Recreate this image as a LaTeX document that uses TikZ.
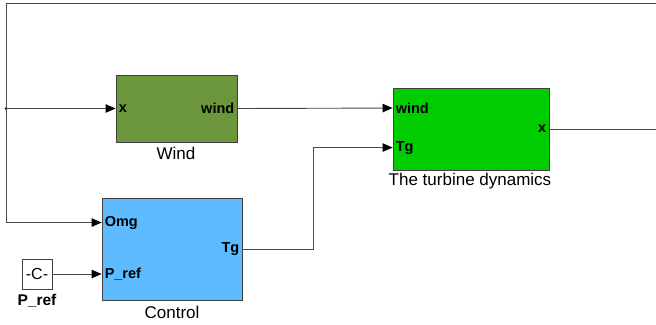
\documentclass[tikz,border=0pt]{standalone}
\usepackage{fontspec}
\setmainfont{Liberation Sans}
\usetikzlibrary{arrows.meta,calc}
\definecolor{windgreen}{HTML}{6B963C}
\definecolor{turbgreen}{HTML}{00CC00}
\definecolor{ctrlblue}{HTML}{5EBBFF}
\definecolor{wirecol}{HTML}{4A4A4A}
\begin{document}
\begin{tikzpicture}[x=1pt,y=1pt,
  blk/.style={draw=black!75, line width=0.9pt, rectangle, inner sep=0pt},
  port/.style={font=\fontsize{14.5}{16}\selectfont\bfseries, inner sep=0pt},
  bname/.style={font=\fontsize{17}{19}\selectfont, inner sep=0pt},
  wire/.style={draw=wirecol, line width=0.9pt},
  sig/.style={wire, -{Triangle[length=10pt,width=8.5pt,fill=black,color=black]}}
]
\useasboundingbox (0,0) rectangle (656,-324);
% blocks
\node[blk, fill=windgreen, minimum width=121pt, minimum height=67pt] (wind) at (176.5,-108.5) {};
\node[blk, fill=turbgreen, minimum width=156pt, minimum height=82pt] (turb) at (471,-129) {};
\node[blk, fill=ctrlblue, minimum width=140pt, minimum height=102pt] (ctrl) at (172,-249) {};
\node[blk, fill=white, minimum width=30pt, minimum height=30pt, line width=0.7pt] (const) at (37,-274) {};
\node[font=\fontsize{16}{18}\selectfont, inner sep=0pt] (ctext) at (const.center) {-C-};
% block names
\node[bname] (wname) at (176,-153) {Wind};
\node[bname] (tname) at (470,-181) {The turbine dynamics};
\node[bname] (cname) at (172,-312) {Control};
\node[port, font=\fontsize{15.5}{17}\selectfont\bfseries] (pname) at (37,-301) {P\_ref};
% ports
\coordinate (turbWind) at ($(turb.north west)+(0,-20.5)$);
\coordinate (turbTg) at ($(turb.north west)+(0,-60)$);
\coordinate (ctrlOmg) at ($(ctrl.north west)+(0,-25)$);
\coordinate (ctrlPref) at (ctrl.west |- const.east);
\node[port, anchor=west] (lwx) at ($(wind.west)+(3,0)$) {x};
\node[port, anchor=east] (lww) at ($(wind.east)+(-3,0)$) {wind};
\node[port, anchor=west] (ltw) at ($(turbWind)+(3,0)$) {wind};
\node[port, anchor=west] (ltt) at ($(turbTg)+(3,0)$) {Tg};
\node[port, anchor=east] (ltx) at ($(turb.east)+(-3,0)$) {x};
\node[port, anchor=west] (lco) at ($(ctrlOmg)+(3,0)$) {Omg};
\node[port, anchor=west] (lcp) at ($(ctrlPref)+(3,0)$) {P\_ref};
\node[port, anchor=east] (lct) at ($(ctrl.east)+(-3,0)$) {Tg};
% free ends / bends
\coordinate (junc) at (6,-108.5);
\coordinate (topR) at (656,-3);
\coordinate (topL) at (6,-3);
\coordinate (outR) at (656,-129);
\coordinate (tgBend) at (313,-249);
% connectors
\draw[sig] (junc) -- (wind.west);
\fill[black] (junc) circle (1.4pt);
\draw[wire] (topR) -- (topL) -- (junc);
\draw[sig] (junc) |- (ctrlOmg);
\draw[sig] (wind.east) -- (turbWind);
\draw[wire] (turb.east) -- (outR);
\draw[sig] (ctrl.east) -- (tgBend) |- (turbTg);
\draw[sig] (const.east) -- (ctrlPref);
\end{tikzpicture}
\end{document}
